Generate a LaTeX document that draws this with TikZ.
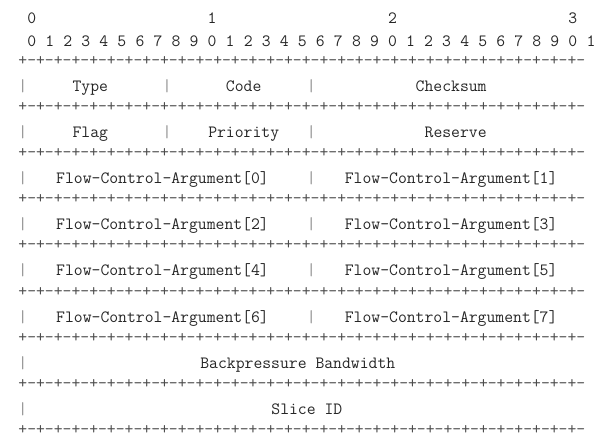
\documentclass[tikz,border=0pt]{standalone}
\newcommand\pktpair{+-+-+-+-}
\newcommand\pktrule{\pktpair\pktpair\pktpair\pktpair\pktpair\pktpair\pktpair\pktpair}
\begin{document}
\begin{tikzpicture}[
        x=9.02pt, y=-1pt,
        every node/.style={inner sep=0pt, anchor=base, text=black!85,
            font=\ttfamily\fontsize{17.2}{20}\selectfont},
        bar/.style={text=black!45},
        rule/.style={anchor=base west, text=black!70},
    ]
    \useasboundingbox (-2.517,0) rectangle (63.78,442);
    % bit numbers
    \foreach \t in {0,...,3}
        \node (hdr\t) at (20*\t+1,23) {\t};
    \foreach \i in {0,...,31}{
        \pgfmathtruncatemacro\d{mod(\i,10)}
        \node (bit\i) at (2*\i+1,46) {\d};
    }
    % separator lines
    \foreach \k in {0,...,8}
        \node[rule] (rule\k) at (-0.5,65+46.2*\k) {\pktrule};
    % field borders
    \foreach \r in {0,...,7}
        \node[bar] (lbar\r) at (0,91+46.2*\r) {|};
    \foreach \r in {0,1}
        \node[bar] (qbar\r) at (16,91+46.2*\r) {|};
    \foreach \r in {0,...,5}
        \node[bar] (hbar\r) at (32,91+46.2*\r) {|};
    % fields
    \node (type) at (7.5,91) {Type};
    \node (code) at (24.5,91) {Code};
    \node (checksum) at (47.5,91) {Checksum};
    \node (flag) at (7.5,137.2) {Flag};
    \node (priority) at (24.5,137.2) {Priority};
    \node (reserve) at (48,137.2) {Reserve};
    \foreach \r in {0,...,3}{
        \pgfmathtruncatemacro\a{2*\r}
        \pgfmathtruncatemacro\b{2*\r+1}
        \node (arg\a) at (15.5,183.4+46.2*\r) {Flow-Control-Argument[\a]};
        \node (arg\b) at (47.5,183.4+46.2*\r) {Flow-Control-Argument[\b]};
    }
    \node (bandwidth) at (30.5,368.2) {Backpressure Bandwidth};
    \node (slice) at (31.5,414.4) {Slice ID};
\end{tikzpicture}
\end{document}
